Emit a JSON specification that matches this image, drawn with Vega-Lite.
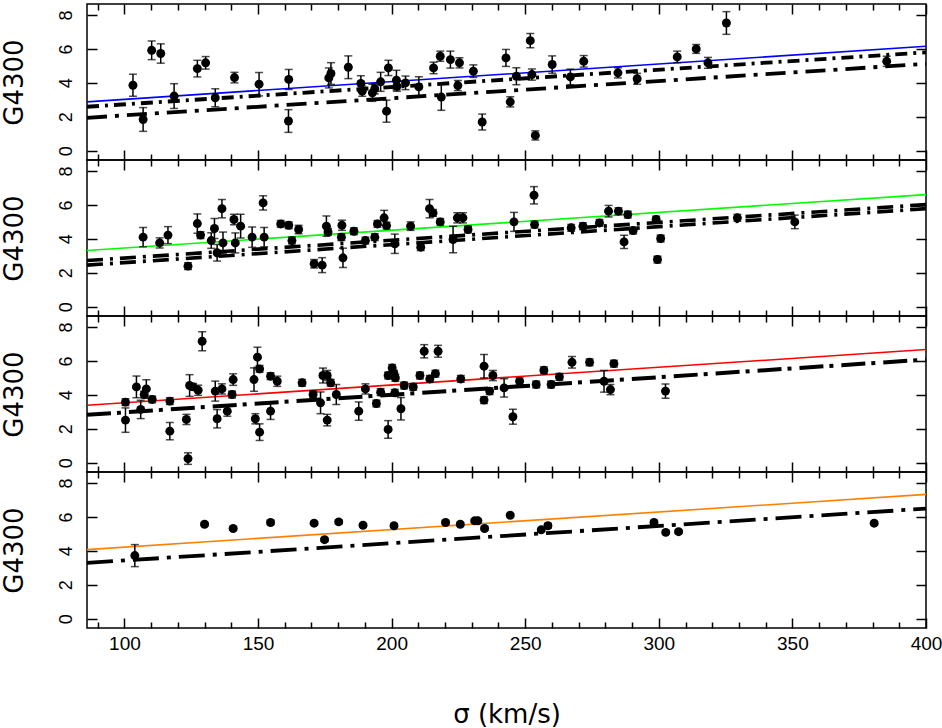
{
  "$schema": "https://vega.github.io/schema/vega-lite/v6.json",
  "padding": {"left": 0, "top": 2, "right": 10, "bottom": 0},
  "background": "white",
  "bounds": "flush",
  "datasets": {
    "pts": [
      {"p":1,"s":103.2,"g":3.86,"e":0.65},{"p":1,"s":107,"g":1.84,"e":0.7},{"p":1,"s":110.2,"g":5.92,"e":0.55},{"p":1,"s":113.6,"g":5.73,"e":0.57},{"p":1,"s":118.6,"g":3.22,"e":0.73},{"p":1,"s":127.3,"g":4.84,"e":0.49},{"p":1,"s":130.4,"g":5.18,"e":0.37},{"p":1,"s":134,"g":3.12,"e":0.53},{"p":1,"s":141.2,"g":4.31,"e":0.31},{"p":1,"s":150.4,"g":3.92,"e":0.69},{"p":1,"s":161.4,"g":1.75,"e":0.67},{"p":1,"s":161.5,"g":4.2,"e":0.59},{"p":1,"s":176.5,"g":4.29,"e":0.59},{"p":1,"s":177.3,"g":4.55,"e":0.64},{"p":1,"s":183.8,"g":4.92,"e":0.67},{"p":1,"s":188.5,"g":3.96,"e":0.46},{"p":1,"s":189,"g":3.51,"e":0.3},{"p":1,"s":192.8,"g":3.41,"e":0.5},{"p":1,"s":193.7,"g":3.65,"e":0.3},{"p":1,"s":195.9,"g":4.06,"e":0.56},{"p":1,"s":198.1,"g":2.33,"e":0.65},{"p":1,"s":198.8,"g":4.88,"e":0.45},{"p":1,"s":201.8,"g":4.16,"e":0.58},{"p":1,"s":202,"g":3.8,"e":0.3},{"p":1,"s":205.2,"g":4.0,"e":0.4},{"p":1,"s":210.2,"g":3.76,"e":0.6},{"p":1,"s":215.7,"g":4.88,"e":0.34},{"p":1,"s":218.2,"g":5.57,"e":0.3},{"p":1,"s":218.6,"g":3.16,"e":0.78},{"p":1,"s":222,"g":5.37,"e":0.5},{"p":1,"s":224.8,"g":3.84,"e":0.3},{"p":1,"s":225.4,"g":5.18,"e":0.3},{"p":1,"s":230.6,"g":4.69,"e":0.37},{"p":1,"s":233.9,"g":1.69,"e":0.47},{"p":1,"s":242.8,"g":5.47,"e":0.5},{"p":1,"s":244.4,"g":2.88,"e":0.3},{"p":1,"s":246.7,"g":4.39,"e":0.5},{"p":1,"s":251.9,"g":6.49,"e":0.42},{"p":1,"s":252.5,"g":4.49,"e":0.33},{"p":1,"s":253.8,"g":0.9,"e":0.27},{"p":1,"s":260.1,"g":5.08,"e":0.51},{"p":1,"s":266.9,"g":4.35,"e":0.46},{"p":1,"s":271.9,"g":5.27,"e":0.34},{"p":1,"s":284.7,"g":4.59,"e":0.3},{"p":1,"s":291.9,"g":4.24,"e":0.32},{"p":1,"s":306.9,"g":5.53,"e":0.34},{"p":1,"s":314,"g":6.0,"e":0.26},{"p":1,"s":318.4,"g":5.18,"e":0.32},{"p":1,"s":325.3,"g":7.53,"e":0.67},{"p":1,"s":385.3,"g":5.27,"e":0.3},
      {"p":2,"s":107,"g":4.1,"e":0.57},{"p":2,"s":113.2,"g":3.76,"e":0.3},{"p":2,"s":116.3,"g":4.22,"e":0.5},{"p":2,"s":123.8,"g":2.39,"e":0.2},{"p":2,"s":127.3,"g":4.9,"e":0.57},{"p":2,"s":128.5,"g":4.22,"e":0.2},{"p":2,"s":132.5,"g":3.9,"e":0.46},{"p":2,"s":133.7,"g":4.61,"e":0.59},{"p":2,"s":134.7,"g":3.18,"e":0.49},{"p":2,"s":136.5,"g":5.78,"e":0.54},{"p":2,"s":136.9,"g":3.76,"e":0.64},{"p":2,"s":141,"g":5.14,"e":0.31},{"p":2,"s":141.5,"g":3.76,"e":0.59},{"p":2,"s":143.5,"g":4.75,"e":0.7},{"p":2,"s":147.8,"g":4.1,"e":0.6},{"p":2,"s":151.9,"g":6.12,"e":0.42},{"p":2,"s":152.3,"g":4.1,"e":0.57},{"p":2,"s":158.5,"g":4.88,"e":0.2},{"p":2,"s":161.5,"g":4.8,"e":0.2},{"p":2,"s":162.7,"g":3.9,"e":0.2},{"p":2,"s":165.2,"g":4.55,"e":0.25},{"p":2,"s":171,"g":2.53,"e":0.25},{"p":2,"s":174,"g":2.45,"e":0.44},{"p":2,"s":175.6,"g":4.75,"e":0.6},{"p":2,"s":176.2,"g":4.41,"e":0.2},{"p":2,"s":181.4,"g":4.8,"e":0.3},{"p":2,"s":181.2,"g":4.1,"e":0.2},{"p":2,"s":181.8,"g":2.88,"e":0.57},{"p":2,"s":185.9,"g":4.45,"e":0.2},{"p":2,"s":190.2,"g":3.9,"e":0.2},{"p":2,"s":193.7,"g":4.1,"e":0.2},{"p":2,"s":194.7,"g":4.88,"e":0.2},{"p":2,"s":197.2,"g":5.24,"e":0.44},{"p":2,"s":198.1,"g":4.78,"e":0.2},{"p":2,"s":201.2,"g":3.71,"e":0.57},{"p":2,"s":207.1,"g":4.75,"e":0.25},{"p":2,"s":210.9,"g":3.51,"e":0.2},{"p":2,"s":214.2,"g":5.78,"e":0.54},{"p":2,"s":215.5,"g":5.53,"e":0.2},{"p":2,"s":218.2,"g":5.0,"e":0.2},{"p":2,"s":223,"g":3.96,"e":0.78},{"p":2,"s":224.6,"g":5.24,"e":0.3},{"p":2,"s":226.7,"g":5.24,"e":0.3},{"p":2,"s":228.6,"g":4.55,"e":0.2},{"p":2,"s":245.8,"g":5.0,"e":0.56},{"p":2,"s":253.3,"g":6.57,"e":0.51},{"p":2,"s":253.5,"g":4.84,"e":0.2},{"p":2,"s":267.2,"g":4.65,"e":0.2},{"p":2,"s":271.6,"g":4.75,"e":0.2},{"p":2,"s":277.8,"g":4.94,"e":0.2},{"p":2,"s":281.2,"g":5.63,"e":0.34},{"p":2,"s":284.9,"g":5.63,"e":0.2},{"p":2,"s":288.4,"g":5.43,"e":0.2},{"p":2,"s":287,"g":3.82,"e":0.39},{"p":2,"s":290.4,"g":4.49,"e":0.2},{"p":2,"s":299,"g":5.14,"e":0.2},{"p":2,"s":300.7,"g":4.02,"e":0.2},{"p":2,"s":299.5,"g":2.78,"e":0.2},{"p":2,"s":329.4,"g":5.24,"e":0.2},{"p":2,"s":350.9,"g":5.0,"e":0.4},
      {"p":3,"s":100.4,"g":2.51,"e":0.72},{"p":3,"s":100.4,"g":3.57,"e":0.2},{"p":3,"s":104.5,"g":4.47,"e":0.64},{"p":3,"s":106.1,"g":3.14,"e":0.54},{"p":3,"s":107.4,"g":4.02,"e":0.2},{"p":3,"s":108.2,"g":4.35,"e":0.54},{"p":3,"s":110.4,"g":3.73,"e":0.2},{"p":3,"s":117,"g":1.86,"e":0.51},{"p":3,"s":117,"g":3.63,"e":0.2},{"p":3,"s":123.8,"g":0.24,"e":0.34},{"p":3,"s":123.2,"g":2.55,"e":0.3},{"p":3,"s":124.4,"g":4.55,"e":0.64},{"p":3,"s":125.7,"g":4.47,"e":0.2},{"p":3,"s":127.6,"g":4.27,"e":0.3},{"p":3,"s":129.1,"g":7.16,"e":0.56},{"p":3,"s":134,"g":4.22,"e":0.59},{"p":3,"s":134.7,"g":2.59,"e":0.54},{"p":3,"s":136.5,"g":4.35,"e":0.3},{"p":3,"s":138.5,"g":3.04,"e":0.3},{"p":3,"s":140.3,"g":4.02,"e":0.2},{"p":3,"s":140.7,"g":4.9,"e":0.34},{"p":3,"s":148.5,"g":4.9,"e":0.69},{"p":3,"s":149.8,"g":6.22,"e":0.59},{"p":3,"s":150.6,"g":5.53,"e":0.2},{"p":3,"s":149,"g":2.59,"e":0.3},{"p":3,"s":150.6,"g":1.8,"e":0.49},{"p":3,"s":154.7,"g":5.1,"e":0.2},{"p":3,"s":154.7,"g":3.04,"e":0.49},{"p":3,"s":157.2,"g":4.8,"e":0.3},{"p":3,"s":166.5,"g":4.71,"e":0.2},{"p":3,"s":170.6,"g":4.02,"e":0.2},{"p":3,"s":173.4,"g":3.53,"e":0.64},{"p":3,"s":174.3,"g":5.14,"e":0.44},{"p":3,"s":175.9,"g":5.14,"e":0.3},{"p":3,"s":175.9,"g":2.51,"e":0.34},{"p":3,"s":177.2,"g":4.71,"e":0.2},{"p":3,"s":179.3,"g":4.02,"e":0.59},{"p":3,"s":187.7,"g":3.04,"e":0.54},{"p":3,"s":190.2,"g":4.35,"e":0.3},{"p":3,"s":194.3,"g":3.49,"e":0.2},{"p":3,"s":195.9,"g":4.16,"e":0.2},{"p":3,"s":198.7,"g":1.96,"e":0.52},{"p":3,"s":198.7,"g":5.14,"e":0.2},{"p":3,"s":200.2,"g":5.59,"e":0.2},{"p":3,"s":200.9,"g":5.25,"e":0.2},{"p":3,"s":201.4,"g":5.0,"e":0.2},{"p":3,"s":201.2,"g":4.12,"e":0.2},{"p":3,"s":203.5,"g":3.18,"e":0.66},{"p":3,"s":204.7,"g":4.55,"e":0.2},{"p":3,"s":208.1,"g":4.47,"e":0.2},{"p":3,"s":210.6,"g":5.14,"e":0.2},{"p":3,"s":212.2,"g":6.57,"e":0.39},{"p":3,"s":214.3,"g":4.94,"e":0.2},{"p":3,"s":216.4,"g":5.25,"e":0.2},{"p":3,"s":217.4,"g":6.57,"e":0.35},{"p":3,"s":225.9,"g":4.94,"e":0.2},{"p":3,"s":234.6,"g":5.69,"e":0.69},{"p":3,"s":234.6,"g":3.69,"e":0.2},{"p":3,"s":236.7,"g":4.22,"e":0.2},{"p":3,"s":237.9,"g":5.14,"e":0.3},{"p":3,"s":242.1,"g":4.41,"e":0.54},{"p":3,"s":245.4,"g":2.71,"e":0.44},{"p":3,"s":247.9,"g":4.8,"e":0.2},{"p":3,"s":254.1,"g":4.61,"e":0.2},{"p":3,"s":257,"g":5.45,"e":0.2},{"p":3,"s":259.7,"g":4.61,"e":0.2},{"p":3,"s":262.8,"g":5.06,"e":0.2},{"p":3,"s":267.5,"g":5.92,"e":0.34},{"p":3,"s":274.1,"g":5.92,"e":0.2},{"p":3,"s":279.5,"g":4.8,"e":0.64},{"p":3,"s":281.9,"g":4.31,"e":0.3},{"p":3,"s":283.2,"g":5.84,"e":0.2},{"p":3,"s":302.5,"g":4.22,"e":0.42},
      {"p":4,"s":103.9,"g":3.72,"e":0.65},{"p":4,"s":130,"g":5.57,"e":0.1},{"p":4,"s":140.7,"g":5.32,"e":0.1},{"p":4,"s":154.7,"g":5.67,"e":0.12},{"p":4,"s":171,"g":5.63,"e":0.1},{"p":4,"s":174.9,"g":4.66,"e":0.1},{"p":4,"s":180.2,"g":5.71,"e":0.12},{"p":4,"s":189.3,"g":5.51,"e":0.1},{"p":4,"s":200.9,"g":5.48,"e":0.1},{"p":4,"s":220.2,"g":5.67,"e":0.1},{"p":4,"s":225.7,"g":5.57,"e":0.1},{"p":4,"s":231.1,"g":5.77,"e":0.1},{"p":4,"s":232.3,"g":5.77,"e":0.1},{"p":4,"s":234.8,"g":5.32,"e":0.1},{"p":4,"s":244.4,"g":6.1,"e":0.1},{"p":4,"s":256,"g":5.24,"e":0.1},{"p":4,"s":258.5,"g":5.48,"e":0.14},{"p":4,"s":298.2,"g":5.67,"e":0.1},{"p":4,"s":302.6,"g":5.09,"e":0.1},{"p":4,"s":307.4,"g":5.13,"e":0.1},{"p":4,"s":380.6,"g":5.63,"e":0.1}
    ],
    "lns": [
      {"p":1,"c":1,"k":"blue","s":86,"g":2.88},{"p":1,"c":1,"k":"blue","s":400,"g":6.16},
      {"p":1,"c":0,"k":"k1","s":86,"g":2.59},{"p":1,"c":0,"k":"k1","s":400,"g":5.8},
      {"p":1,"c":0,"k":"k2","s":86,"g":1.94},{"p":1,"c":0,"k":"k2","s":400,"g":5.12},
      {"p":2,"c":1,"k":"green","s":86,"g":3.31},{"p":2,"c":1,"k":"green","s":400,"g":6.61},
      {"p":2,"c":0,"k":"k3","s":86,"g":2.72},{"p":2,"c":0,"k":"k3","s":400,"g":6.02},
      {"p":2,"c":0,"k":"k4","s":86,"g":2.45},{"p":2,"c":0,"k":"k4","s":400,"g":5.78},
      {"p":3,"c":1,"k":"red","s":86,"g":3.39},{"p":3,"c":1,"k":"red","s":400,"g":6.67},
      {"p":3,"c":0,"k":"k5","s":86,"g":2.82},{"p":3,"c":0,"k":"k5","s":400,"g":6.08},
      {"p":4,"c":1,"k":"orange","s":86,"g":4.07},{"p":4,"c":1,"k":"orange","s":400,"g":7.33},
      {"p":4,"c":0,"k":"k6","s":86,"g":3.29},{"p":4,"c":0,"k":"k6","s":400,"g":6.49}
    ]
  },
  "vconcat": [
    {
      "width": 839, "height": 156,
      "layer": [
        {"data": {"name": "lns"}, "transform": [{"filter": "datum.p === 1 && datum.c === 0"}],
         "mark": {"type": "line", "color": "black", "strokeWidth": 3.8},
         "encoding": {
           "x": {"field": "s", "type": "quantitative", "scale": {"domain": [86, 400], "nice": false, "zero": false},
                 "axis": {"orient": "bottom", "values": [90,100,110,120,130,140,150,160,170,180,190,200,210,220,230,240,250,260,270,280,290,300,310,320,330,340,350,360,370,380,390,400], "tickSize": {"condition": {"test": "datum.value % 50 === 0", "value": -10}, "value": -6}, "labels": false, "title": null}},
           "y": {"field": "g", "type": "quantitative", "scale": {"domain": [-0.55, 8.65], "nice": false, "zero": false},
                 "axis": {"orient": "left", "values": [0,2,4,6,8], "tickSize": -10, "title": "G4300"}},
           "detail": {"field": "k"},
           "strokeDash": {"field": "k", "type": "nominal", "legend": null, "scale": {"domain": ["k1","k2","k3","k4","k5","k6"], "range": [[12,6,3,6],[20,8,4,8],[16,7,3,7],[16,7,3,7],[24,6,4,8],[26,8,4,8]]}}
         }},
        {"data": {"name": "lns"}, "transform": [{"filter": "datum.p === 1 && datum.c === 1"}],
         "mark": {"type": "line", "color": "#0000ff", "strokeWidth": 1.6},
         "encoding": {
           "x": {"field": "s", "type": "quantitative", "axis": null},
           "y": {"field": "g", "type": "quantitative", "axis": null}
         }},
        {"data": {"name": "pts"}, "transform": [{"filter": "datum.p === 1"}],
         "mark": {"type": "errorbar", "ticks": {"size": 8}, "thickness": 1.5, "color": "black"},
         "encoding": {
           "x": {"field": "s", "type": "quantitative", "axis": null},
           "y": {"field": "g", "type": "quantitative", "axis": null},
           "yError": {"field": "e"}
         }},
        {"data": {"name": "pts"}, "transform": [{"filter": "datum.p === 1"}],
         "mark": {"type": "point", "filled": true, "color": "black", "size": 80, "opacity": 1},
         "encoding": {
           "x": {"field": "s", "type": "quantitative",
                 "axis": {"orient": "top", "values": [90,100,110,120,130,140,150,160,170,180,190,200,210,220,230,240,250,260,270,280,290,300,310,320,330,340,350,360,370,380,390,400], "tickSize": {"condition": {"test": "datum.value % 50 === 0", "value": -10}, "value": -6}, "labels": false, "title": null}},
           "y": {"field": "g", "type": "quantitative",
                 "axis": {"orient": "right", "values": [0,2,4,6,8], "tickSize": -10, "labels": false, "title": null}}
         }}
      ],
      "resolve": {"axis": {"x": "independent", "y": "independent"}}
    },
    {
      "width": 839, "height": 156,
      "layer": [
        {"data": {"name": "lns"}, "transform": [{"filter": "datum.p === 2 && datum.c === 0"}],
         "mark": {"type": "line", "color": "black", "strokeWidth": 3.6},
         "encoding": {
           "x": {"field": "s", "type": "quantitative", "scale": {"domain": [86, 400], "nice": false, "zero": false},
                 "axis": {"orient": "bottom", "values": [90,100,110,120,130,140,150,160,170,180,190,200,210,220,230,240,250,260,270,280,290,300,310,320,330,340,350,360,370,380,390,400], "tickSize": {"condition": {"test": "datum.value % 50 === 0", "value": -10}, "value": -6}, "labels": false, "title": null}},
           "y": {"field": "g", "type": "quantitative", "scale": {"domain": [-0.55, 8.65], "nice": false, "zero": false},
                 "axis": {"orient": "left", "values": [0,2,4,6,8], "tickSize": -10, "title": "G4300"}},
           "detail": {"field": "k"},
           "strokeDash": {"field": "k", "type": "nominal", "legend": null}
         }},
        {"data": {"name": "lns"}, "transform": [{"filter": "datum.p === 2 && datum.c === 1"}],
         "mark": {"type": "line", "color": "#00ff00", "strokeWidth": 1.6},
         "encoding": {
           "x": {"field": "s", "type": "quantitative", "axis": null},
           "y": {"field": "g", "type": "quantitative", "axis": null}
         }},
        {"data": {"name": "pts"}, "transform": [{"filter": "datum.p === 2"}],
         "mark": {"type": "errorbar", "ticks": {"size": 8}, "thickness": 1.5, "color": "black"},
         "encoding": {
           "x": {"field": "s", "type": "quantitative", "axis": null},
           "y": {"field": "g", "type": "quantitative", "axis": null},
           "yError": {"field": "e"}
         }},
        {"data": {"name": "pts"}, "transform": [{"filter": "datum.p === 2"}],
         "mark": {"type": "point", "filled": true, "color": "black", "size": 80, "opacity": 1},
         "encoding": {
           "x": {"field": "s", "type": "quantitative",
                 "axis": {"orient": "top", "values": [90,100,110,120,130,140,150,160,170,180,190,200,210,220,230,240,250,260,270,280,290,300,310,320,330,340,350,360,370,380,390,400], "tickSize": {"condition": {"test": "datum.value % 50 === 0", "value": -10}, "value": -6}, "labels": false, "title": null}},
           "y": {"field": "g", "type": "quantitative",
                 "axis": {"orient": "right", "values": [0,2,4,6,8], "tickSize": -10, "labels": false, "title": null}}
         }}
      ],
      "resolve": {"axis": {"x": "independent", "y": "independent"}}
    },
    {
      "width": 839, "height": 156,
      "layer": [
        {"data": {"name": "lns"}, "transform": [{"filter": "datum.p === 3 && datum.c === 0"}],
         "mark": {"type": "line", "color": "black", "strokeWidth": 4},
         "encoding": {
           "x": {"field": "s", "type": "quantitative", "scale": {"domain": [86, 400], "nice": false, "zero": false},
                 "axis": {"orient": "bottom", "values": [90,100,110,120,130,140,150,160,170,180,190,200,210,220,230,240,250,260,270,280,290,300,310,320,330,340,350,360,370,380,390,400], "tickSize": {"condition": {"test": "datum.value % 50 === 0", "value": -10}, "value": -6}, "labels": false, "title": null}},
           "y": {"field": "g", "type": "quantitative", "scale": {"domain": [-0.55, 8.65], "nice": false, "zero": false},
                 "axis": {"orient": "left", "values": [0,2,4,6,8], "tickSize": -10, "title": "G4300"}},
           "detail": {"field": "k"},
           "strokeDash": {"field": "k", "type": "nominal", "legend": null}
         }},
        {"data": {"name": "lns"}, "transform": [{"filter": "datum.p === 3 && datum.c === 1"}],
         "mark": {"type": "line", "color": "#ff0000", "strokeWidth": 1.6},
         "encoding": {
           "x": {"field": "s", "type": "quantitative", "axis": null},
           "y": {"field": "g", "type": "quantitative", "axis": null}
         }},
        {"data": {"name": "pts"}, "transform": [{"filter": "datum.p === 3"}],
         "mark": {"type": "errorbar", "ticks": {"size": 8}, "thickness": 1.5, "color": "black"},
         "encoding": {
           "x": {"field": "s", "type": "quantitative", "axis": null},
           "y": {"field": "g", "type": "quantitative", "axis": null},
           "yError": {"field": "e"}
         }},
        {"data": {"name": "pts"}, "transform": [{"filter": "datum.p === 3"}],
         "mark": {"type": "point", "filled": true, "color": "black", "size": 80, "opacity": 1},
         "encoding": {
           "x": {"field": "s", "type": "quantitative",
                 "axis": {"orient": "top", "values": [90,100,110,120,130,140,150,160,170,180,190,200,210,220,230,240,250,260,270,280,290,300,310,320,330,340,350,360,370,380,390,400], "tickSize": {"condition": {"test": "datum.value % 50 === 0", "value": -10}, "value": -6}, "labels": false, "title": null}},
           "y": {"field": "g", "type": "quantitative",
                 "axis": {"orient": "right", "values": [0,2,4,6,8], "tickSize": -10, "labels": false, "title": null}}
         }}
      ],
      "resolve": {"axis": {"x": "independent", "y": "independent"}}
    },
    {
      "width": 839, "height": 156,
      "layer": [
        {"data": {"name": "lns"}, "transform": [{"filter": "datum.p === 4 && datum.c === 0"}],
         "mark": {"type": "line", "color": "black", "strokeWidth": 3.8},
         "encoding": {
           "x": {"field": "s", "type": "quantitative", "scale": {"domain": [86, 400], "nice": false, "zero": false},
                 "axis": {"orient": "bottom", "values": [90,100,110,120,130,140,150,160,170,180,190,200,210,220,230,240,250,260,270,280,290,300,310,320,330,340,350,360,370,380,390,400], "tickSize": {"condition": {"test": "datum.value % 50 === 0", "value": -10}, "value": -6}, "labelExpr": "datum.value % 50 === 0 ? datum.label : ''", "labelFontSize": 19, "labelPadding": 16, "labelOverlap": false, "labelFlush": false, "title": "σ (km/s)", "titleFont": "DejaVu Sans", "titleFontSize": 26, "titlePadding": 44}},
           "y": {"field": "g", "type": "quantitative", "scale": {"domain": [-0.55, 8.65], "nice": false, "zero": false},
                 "axis": {"orient": "left", "values": [0,2,4,6,8], "tickSize": -10, "title": "G4300"}},
           "detail": {"field": "k"},
           "strokeDash": {"field": "k", "type": "nominal", "legend": null}
         }},
        {"data": {"name": "lns"}, "transform": [{"filter": "datum.p === 4 && datum.c === 1"}],
         "mark": {"type": "line", "color": "#ff8000", "strokeWidth": 1.6},
         "encoding": {
           "x": {"field": "s", "type": "quantitative", "axis": null},
           "y": {"field": "g", "type": "quantitative", "axis": null}
         }},
        {"data": {"name": "pts"}, "transform": [{"filter": "datum.p === 4"}],
         "mark": {"type": "errorbar", "ticks": {"size": 8}, "thickness": 1.5, "color": "black"},
         "encoding": {
           "x": {"field": "s", "type": "quantitative", "axis": null},
           "y": {"field": "g", "type": "quantitative", "axis": null},
           "yError": {"field": "e"}
         }},
        {"data": {"name": "pts"}, "transform": [{"filter": "datum.p === 4"}],
         "mark": {"type": "point", "filled": true, "color": "black", "size": 80, "opacity": 1},
         "encoding": {
           "x": {"field": "s", "type": "quantitative",
                 "axis": {"orient": "top", "values": [90,100,110,120,130,140,150,160,170,180,190,200,210,220,230,240,250,260,270,280,290,300,310,320,330,340,350,360,370,380,390,400], "tickSize": {"condition": {"test": "datum.value % 50 === 0", "value": -10}, "value": -6}, "labels": false, "title": null}},
           "y": {"field": "g", "type": "quantitative",
                 "axis": {"orient": "right", "values": [0,2,4,6,8], "tickSize": -10, "labels": false, "title": null}}
         }}
      ],
      "resolve": {"axis": {"x": "independent", "y": "independent"}}
    }
  ],
  "spacing": 0,
  "config": {
    "view": {"stroke": "black", "strokeWidth": 1.5},
    "axis": {
      "domain": false, "grid": false,
      "tickColor": "black", "tickWidth": 1.5,
      "labelColor": "black", "labelFont": "Liberation Sans", "labelFontSize": 16,
      "titleColor": "black", "titleFont": "Liberation Sans", "titleFontSize": 20, "titleFontWeight": "normal",
      "titlePadding": 28
    },
    "axisY": {
      "labelAngle": -90, "labelFontSize": 18, "labelPadding": 22,
      "titleFont": "DejaVu Sans", "titleFontSize": 26, "titlePadding": 30
    }
  }
}
